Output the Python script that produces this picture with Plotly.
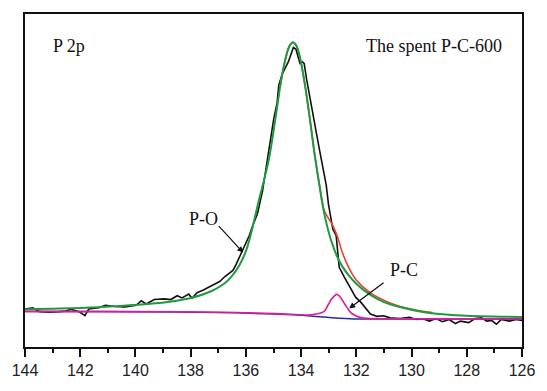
import plotly.graph_objects as go

# ---- data (binding energy in eV, intensity in a.u.) ----
raw_be = [144.00, 143.72, 143.47, 143.11, 142.75, 142.52, 142.34, 142.04, 141.83, 141.69,
          141.33, 141.09, 140.74, 140.38, 140.15, 139.97, 139.79, 139.61, 139.32, 138.96,
          138.72, 138.49, 138.31, 138.07, 137.95, 137.77, 137.54, 137.30, 137.06, 136.95,
          136.77, 136.59, 136.47, 136.35, 136.21, 136.06, 135.88, 135.76, 135.58, 135.40,
          135.17, 135.11, 134.99, 134.87, 134.81, 134.69, 134.57, 134.46, 134.36, 134.28,
          134.19, 134.10, 134.04, 133.96, 133.89, 133.80, 133.68, 133.57, 133.45, 133.33,
          133.21, 133.09, 133.01, 132.91, 132.85, 132.73, 132.68, 132.62, 132.44, 132.38,
          132.20, 132.02, 131.84, 131.67, 131.49, 131.25, 131.02, 130.78, 130.42, 130.07,
          129.83, 129.59, 129.35, 129.12, 128.88, 128.64, 128.41, 128.23, 127.93, 127.70,
          127.46, 127.28, 127.10, 126.93, 126.75, 126.46, 126.21, 126.00]
raw_int = [40, 41.3, 37.3, 36.7, 37.3, 38, 39.7, 37.3, 33, 40,
           41.3, 44, 42.7, 42.3, 43.3, 44, 48.7, 45.3, 50, 50.7,
           50, 54, 51.7, 55.7, 51.3, 57.3, 60, 64, 67.3, 69,
           74, 78, 80.7, 87.3, 95.7, 105.7, 117.3, 127.3, 140.7, 164,
           207.3, 215.7, 240.7, 257.3, 275.7, 287.3, 294, 300.7, 309, 315.7,
           314, 305.7, 299, 300.7, 299, 282, 264, 244, 226, 207.3,
           187.3, 170.7, 150.7, 130.7, 124, 117.3, 101, 84, 74, 70.7,
           61, 52.3, 47.3, 40.7, 34.7, 32.3, 33, 30.7, 30, 31.3,
           29, 29.7, 27.3, 30, 26.7, 29, 24.7, 27.3, 25.7, 30,
           30.7, 27.3, 28, 24, 29, 27.3, 29, 28]

po_be = [144.00, 142.75, 141.33, 139.91, 138.84, 137.95, 137.24, 136.78, 136.53, 136.24,
         136.00, 135.82, 135.64, 135.50, 135.36, 135.21, 135.11, 134.93, 134.75, 134.64,
         134.48, 134.40, 134.30, 134.18, 134.04, 133.86, 133.68, 133.51, 133.33, 133.15,
         132.91, 132.69, 132.51, 132.26, 132.01, 131.73, 131.26, 130.78, 129.59, 128.41,
         126.75, 126.00]
po_int = [39.7, 40.5, 42, 44.5, 47.5, 52, 59, 67, 74, 86,
          101, 119, 141, 158, 174, 192, 207, 241, 276, 294,
          313, 318.5, 321.3, 318, 305, 276, 240, 203, 169, 139,
          112, 95, 85, 75, 67, 60, 51, 45, 37, 33.5,
          32, 31.7]

env_be = [134.75, 134.64, 134.48, 134.40, 134.30, 134.18, 134.04, 133.86, 133.68, 133.51,
          133.33, 133.15, 132.91, 132.79, 132.68, 132.50, 132.26, 132.01, 131.49, 130.78,
          129.95, 129.24]
env_int = [276, 294, 313, 318.5, 321.3, 318, 305, 276, 240, 203,
           170, 143, 131, 124, 116, 99, 83, 71, 57, 46.5,
           39.5, 36.3]

pc_be = [144.00, 141.33, 138.49, 136.35, 134.93, 133.76, 133.51, 133.27, 133.15, 133.03,
         132.91, 132.79, 132.70, 132.62, 132.50, 132.32, 132.19, 132.02, 131.83, 131.61,
         130.66, 128.88, 126.00]
pc_int = [37.5, 37.3, 37.2, 36.3, 35.2, 33.8, 34.5, 36, 38, 44,
          50, 54, 55.5, 54, 49, 40.7, 36, 33, 31, 30.2,
          29.7, 29.6, 29.5]

bg_be = [144.00, 141.33, 138.49, 136.35, 134.93, 133.76, 133.15, 132.62, 132.08, 131.37, 126.00]
bg_int = [37.5, 37.3, 37, 36, 34.7, 33, 31.5, 30.2, 29.6, 29.4, 29.4]

x_ticks = [144, 142, 140, 138, 136, 134, 132, 130, 128, 126]

fig = go.Figure()
fig.add_trace(go.Scatter(x=raw_be, y=raw_int, mode="lines",
                         line=dict(color="#111111", width=1.6), name="raw"))
fig.add_trace(go.Scatter(x=bg_be, y=bg_int, mode="lines",
                         line=dict(color="#2e2a9a", width=1.5, shape="spline"), name="bg"))
fig.add_trace(go.Scatter(x=env_be, y=env_int, mode="lines",
                         line=dict(color="#e8432c", width=1.6, shape="spline"), name="envelope"))
fig.add_trace(go.Scatter(x=po_be, y=po_int, mode="lines",
                         line=dict(color="#1f9a3e", width=2, shape="spline"), name="P-O"))
fig.add_trace(go.Scatter(x=pc_be, y=pc_int, mode="lines",
                         line=dict(color="#e01a96", width=1.6, shape="spline"), name="P-C"))

serif = "Liberation Serif, Times New Roman, serif"
fig.add_annotation(x=0.053, y=0.903, xref="paper", yref="paper", xanchor="left", yanchor="middle",
                   text="P 2p", showarrow=False, font=dict(family=serif, size=18, color="#111"))
fig.add_annotation(x=0.964, y=0.903, xref="paper", yref="paper", xanchor="right", yanchor="middle",
                   text="The spent P-C-600", showarrow=False, font=dict(family=serif, size=18, color="#111"))
fig.add_annotation(x=137.53, y=135, xref="x", yref="y", text="P-O", showarrow=False,
                   font=dict(family=serif, size=18, color="#111"))
fig.add_annotation(x=130.27, y=81, xref="x", yref="y", text="P-C", showarrow=False,
                   font=dict(family=serif, size=18, color="#111"))
fig.add_annotation(x=136.10, y=99.5, ax=137.03, ay=129, xref="x", yref="y", axref="x", ayref="y",
                   text="", showarrow=True, arrowhead=2, arrowsize=1, arrowwidth=1.2, arrowcolor="#111")
fig.add_annotation(x=132.26, y=40.7, ax=130.96, ay=69, xref="x", yref="y", axref="x", ayref="y",
                   text="", showarrow=True, arrowhead=2, arrowsize=1, arrowwidth=1.2, arrowcolor="#111")

fig.update_xaxes(range=[144, 126], autorange=False, tickmode="array", tickvals=x_ticks,
                 ticktext=[str(v) for v in x_ticks],
                 ticks="outside", ticklen=8, tickwidth=1.5, tickcolor="#111",
                 minor=dict(dtick=1, tick0=126, ticks="outside", ticklen=4, tickwidth=1.5, tickcolor="#111"),
                 showline=True, linecolor="#111", linewidth=1.5, mirror=True,
                 showgrid=False, zeroline=False,
                 tickfont=dict(family="Liberation Sans, Arial, sans-serif", size=16, color="#222"))
fig.update_yaxes(range=[0, 351], autorange=False, showticklabels=False, ticks="",
                 showline=True, linecolor="#111", linewidth=1.5, mirror=True,
                 showgrid=False, zeroline=False)

fig.update_layout(width=547, height=391, margin=dict(l=25, r=16, t=13, b=27),
                  paper_bgcolor="white", plot_bgcolor="white", showlegend=False)

fig.write_html("out.html")
